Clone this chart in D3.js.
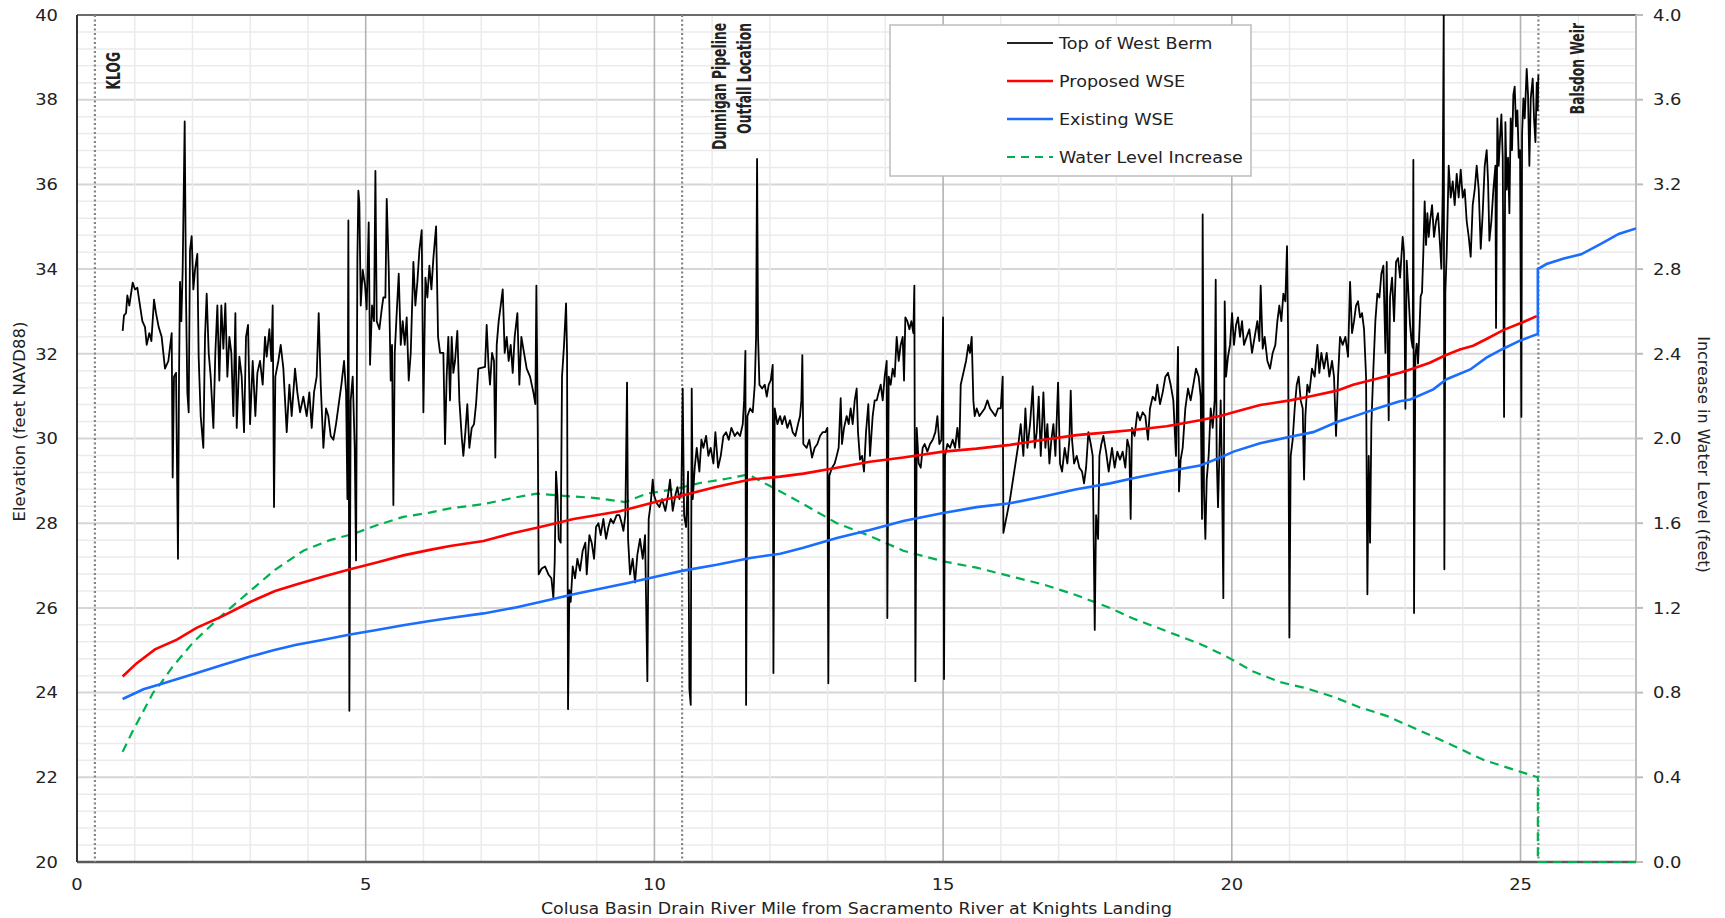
<!DOCTYPE html>
<html>
<head>
<meta charset="utf-8">
<script src="https://cdn.jsdelivr.net/npm/d3@7"></script>
<style>
    body { margin: 0; background: #fff; }
    text { fill: #222; }
</style>
</head>
<body>
<script>

// river mile vs elevation (ft NAVD88), top of west berm
const berm = [
[0.791,32.54],[0.814,32.91],[0.849,32.96],[0.872,33.38],[0.906,33.14],[0.964,33.68],[1.005,33.52],[1.045,33.56],[1.091,33.14],[1.132,32.77],
[1.178,32.63],[1.207,32.21],[1.253,32.49],[1.288,32.30],[1.334,33.28],[1.368,32.96],[1.415,32.63],[1.466,32.40],[1.524,31.65],[1.582,31.83],
[1.640,32.49],[1.657,29.08],[1.680,31.46],[1.715,31.55],[1.749,27.16],[1.767,31.46],[1.784,33.70],[1.807,32.77],[1.830,33.98],[1.865,37.49],
[1.888,33.33],[1.911,31.09],[1.934,30.62],[1.957,34.45],[1.986,34.78],[2.015,33.52],[2.044,33.98],[2.084,34.36],[2.107,31.93],[2.142,30.53],
[2.188,29.78],[2.217,32.40],[2.246,33.42],[2.281,32.02],[2.315,31.46],[2.362,30.25],[2.396,32.02],[2.431,33.14],[2.465,31.37],[2.500,33.14],
[2.535,32.12],[2.569,33.19],[2.604,31.46],[2.639,32.40],[2.673,32.02],[2.708,30.53],[2.743,32.96],[2.766,30.25],[2.812,31.93],[2.852,31.46],
[2.893,30.15],[2.927,32.40],[2.962,32.68],[2.997,30.34],[3.043,31.83],[3.089,30.53],[3.124,31.55],[3.170,31.83],[3.216,31.27],[3.256,32.40],
[3.285,31.93],[3.332,32.58],[3.366,31.83],[3.389,33.14],[3.412,28.38],[3.435,31.46],[3.487,31.83],[3.528,32.21],[3.574,31.65],[3.632,30.15],
[3.678,31.27],[3.718,30.53],[3.776,31.65],[3.816,31.09],[3.863,30.62],[3.920,30.99],[3.978,30.53],[4.024,31.09],[4.065,30.25],[4.105,31.09],
[4.151,31.46],[4.186,32.96],[4.221,31.27],[4.267,29.78],[4.313,30.71],[4.353,30.53],[4.394,30.06],[4.440,29.97],[4.486,30.34],[4.533,30.81],
[4.579,31.27],[4.625,31.83],[4.660,31.09],[4.683,28.57],[4.700,35.15],[4.717,23.57],[4.740,30.90],[4.775,31.46],[4.810,29.78],[4.833,27.12],
[4.856,34.26],[4.873,35.85],[4.890,35.57],[4.914,33.14],[4.948,33.98],[4.989,33.61],[5.017,33.05],[5.052,35.10],[5.075,31.74],[5.110,33.14],
[5.144,32.77],[5.168,36.32],[5.191,32.77],[5.237,32.58],[5.277,33.05],[5.306,33.33],[5.341,33.33],[5.364,35.66],[5.399,33.98],[5.433,31.37],
[5.456,32.21],[5.479,28.43],[5.503,32.02],[5.537,32.96],[5.572,33.89],[5.607,32.21],[5.641,32.77],[5.676,32.21],[5.710,32.86],[5.745,31.37],
[5.780,32.02],[5.826,34.17],[5.860,33.14],[5.895,33.70],[5.930,34.45],[5.970,34.92],[5.999,30.62],[6.034,33.80],[6.068,33.33],[6.103,34.08],
[6.138,33.52],[6.172,34.26],[6.219,35.01],[6.253,32.40],[6.288,32.02],[6.345,32.02],[6.374,29.87],[6.402,31.46],[6.431,32.40],[6.460,30.90],
[6.489,32.40],[6.518,31.55],[6.547,31.83],[6.587,32.54],[6.622,30.90],[6.662,30.06],[6.691,29.59],[6.726,30.15],[6.760,30.81],[6.795,29.78],
[6.836,30.25],[6.876,30.34],[6.911,30.81],[6.951,31.65],[7.067,31.69],[7.095,32.68],[7.130,31.65],[7.153,31.27],[7.188,32.02],[7.222,31.83],
[7.245,29.55],[7.269,32.21],[7.303,32.77],[7.338,33.14],[7.373,33.52],[7.407,32.02],[7.442,32.40],[7.476,31.83],[7.511,32.21],[7.546,31.55],
[7.580,32.40],[7.627,32.96],[7.661,31.27],[7.696,32.40],[7.742,32.02],[7.788,31.65],[7.846,31.46],[7.904,31.09],[7.938,30.81],[7.956,33.61],
[7.979,30.34],[7.996,26.79],[8.048,26.93],[8.106,26.98],[8.164,26.79],[8.216,26.70],[8.250,26.23],[8.273,27.07],[8.296,29.22],[8.320,28.66],
[8.343,27.63],[8.377,27.54],[8.400,31.46],[8.435,32.21],[8.470,33.19],[8.487,32.02],[8.504,23.61],[8.527,26.42],[8.550,26.14],[8.585,26.98],
[8.626,26.70],[8.666,27.16],[8.712,26.88],[8.758,27.35],[8.804,27.54],[8.828,26.79],[8.874,27.72],[8.914,27.54],[8.955,27.16],[8.989,27.91],
[9.030,28.00],[9.070,27.72],[9.116,28.10],[9.163,27.63],[9.203,27.91],[9.243,28.10],[9.290,28.00],[9.347,28.19],[9.394,28.19],[9.434,28.00],
[9.463,27.82],[9.497,28.19],[9.526,31.32],[9.544,27.63],[9.578,26.79],[9.624,27.16],[9.665,26.60],[9.705,27.26],[9.751,27.63],[9.798,27.16],
[9.838,27.72],[9.878,24.27],[9.901,28.10],[9.936,28.47],[9.971,29.03],[9.994,28.66],[10.040,28.47],[10.086,28.38],[10.132,28.57],[10.190,28.29],
[10.236,28.66],[10.271,29.03],[10.317,28.29],[10.363,28.66],[10.398,28.85],[10.433,28.57],[10.467,28.75],[10.490,31.18],[10.514,28.19],[10.548,27.91],
[10.583,29.22],[10.606,24.08],[10.629,23.71],[10.646,31.18],[10.664,28.57],[10.698,29.31],[10.733,29.78],[10.779,29.22],[10.814,29.97],[10.848,29.78],
[10.895,30.06],[10.935,29.59],[10.975,29.78],[11.022,29.41],[11.056,30.15],[11.103,29.31],[11.149,29.59],[11.195,30.06],[11.241,30.15],[11.287,29.97],
[11.333,30.25],[11.391,30.06],[11.437,30.15],[11.484,30.06],[11.530,30.34],[11.553,30.90],[11.576,32.07],[11.588,23.71],[11.611,30.53],[11.657,30.71],
[11.703,30.62],[11.738,31.27],[11.761,32.40],[11.778,36.60],[11.795,32.40],[11.819,31.27],[11.865,31.18],[11.911,31.27],[11.946,30.99],[11.980,31.27],
[12.015,31.37],[12.049,31.74],[12.061,24.46],[12.084,30.71],[12.130,30.34],[12.177,30.53],[12.210,30.34],[12.256,30.53],[12.302,30.25],[12.348,30.43],
[12.395,30.15],[12.441,30.06],[12.487,30.34],[12.522,30.53],[12.545,30.90],[12.562,31.97],[12.579,29.87],[12.637,29.78],[12.683,29.97],[12.730,29.55],
[12.776,29.78],[12.822,29.87],[12.868,30.06],[12.914,30.15],[12.960,30.15],[12.995,30.25],[13.012,24.22],[13.030,29.13],[13.076,29.31],[13.122,29.41],
[13.157,29.59],[13.191,29.78],[13.226,30.95],[13.249,29.87],[13.284,30.25],[13.330,30.53],[13.365,30.34],[13.399,30.71],[13.434,30.34],[13.469,30.90],
[13.503,31.18],[13.526,30.15],[13.561,29.50],[13.596,29.59],[13.630,29.22],[13.665,30.15],[13.705,30.81],[13.734,29.59],[13.780,30.53],[13.815,30.90],
[13.850,30.90],[13.884,31.09],[13.919,31.27],[13.954,30.90],[13.988,31.46],[14.023,31.83],[14.034,25.76],[14.058,31.46],[14.092,31.27],[14.127,31.65],
[14.161,31.46],[14.196,32.40],[14.231,31.83],[14.265,32.21],[14.300,32.40],[14.323,31.37],[14.346,32.86],[14.381,32.77],[14.416,32.58],[14.450,32.77],
[14.485,32.49],[14.502,33.61],[14.520,24.27],[14.543,30.25],[14.577,29.41],[14.612,29.31],[14.646,29.78],[14.681,29.87],[14.727,29.69],[14.774,29.87],
[14.820,29.97],[14.866,30.15],[14.901,30.53],[14.935,29.87],[14.970,29.97],[14.999,32.86],[15.016,24.32],[15.033,29.59],[15.074,29.87],[15.120,29.78],
[15.166,29.97],[15.207,29.78],[15.247,30.25],[15.282,29.78],[15.305,31.27],[15.351,31.55],[15.397,31.83],[15.438,32.21],[15.466,32.02],[15.495,32.40],
[15.524,30.90],[15.547,30.53],[15.582,30.71],[15.628,30.53],[15.674,30.62],[15.720,30.71],[15.767,30.90],[15.813,30.71],[15.859,30.62],[15.905,30.53],
[15.951,30.71],[15.998,30.71],[16.032,31.46],[16.044,27.77],[16.159,28.57],[16.304,29.87],[16.344,30.34],[16.390,29.59],[16.425,30.71],[16.460,29.78],
[16.506,30.34],[16.552,31.23],[16.587,29.78],[16.621,30.15],[16.656,30.99],[16.691,29.59],[16.737,31.09],[16.771,29.78],[16.806,30.34],[16.841,29.41],
[16.875,29.97],[16.910,30.34],[16.945,29.59],[16.991,31.32],[17.025,29.41],[17.060,29.22],[17.106,29.78],[17.152,29.41],[17.187,29.97],[17.210,31.13],
[17.233,29.97],[17.268,29.41],[17.314,29.59],[17.360,29.31],[17.406,29.22],[17.441,28.94],[17.476,29.31],[17.516,30.15],[17.557,29.87],[17.591,29.59],
[17.626,25.48],[17.649,28.19],[17.684,27.63],[17.707,29.59],[17.741,29.87],[17.776,30.06],[17.822,29.69],[17.868,29.22],[17.925,29.78],[17.971,29.31],
[18.017,29.69],[18.063,29.50],[18.110,29.69],[18.156,29.31],[18.190,29.97],[18.225,29.78],[18.248,28.10],[18.271,30.25],[18.317,30.06],[18.364,30.62],
[18.410,30.43],[18.456,30.62],[18.502,30.53],[18.548,29.97],[18.583,30.71],[18.629,30.99],[18.675,30.90],[18.710,31.27],[18.756,30.81],[18.803,31.09],
[18.849,31.46],[18.895,31.55],[18.941,31.27],[18.987,30.90],[19.033,29.59],[19.068,32.16],[19.085,28.75],[19.114,29.50],[19.149,29.78],[19.195,30.71],
[19.241,31.18],[19.287,30.90],[19.334,31.27],[19.380,31.65],[19.426,31.46],[19.461,30.99],[19.484,28.10],[19.495,35.29],[19.518,28.75],[19.542,27.63],
[19.565,29.03],[19.599,29.59],[19.634,30.71],[19.669,30.25],[19.703,30.90],[19.721,33.75],[19.738,29.59],[19.761,28.38],[19.784,29.59],[19.807,30.90],
[19.830,29.13],[19.853,26.23],[19.877,33.24],[19.900,31.46],[19.934,31.93],[19.969,32.21],[20.004,32.96],[20.038,32.21],[20.073,32.68],[20.107,32.86],
[20.142,32.40],[20.177,32.77],[20.211,32.21],[20.258,32.40],[20.304,32.58],[20.350,32.02],[20.396,32.40],[20.442,32.77],[20.477,32.30],[20.500,33.61],
[20.535,32.12],[20.569,32.40],[20.616,31.83],[20.662,31.65],[20.708,32.02],[20.754,32.21],[20.789,32.77],[20.823,33.14],[20.858,32.77],[20.893,33.42],
[20.927,33.24],[20.956,34.54],[20.974,32.58],[20.997,25.30],[21.020,29.59],[21.054,29.97],[21.089,30.71],[21.124,31.27],[21.158,31.46],[21.193,30.90],
[21.228,30.71],[21.251,29.03],[21.274,30.53],[21.308,31.27],[21.343,31.09],[21.389,31.65],[21.435,31.46],[21.482,32.21],[21.516,31.55],[21.551,32.02],
[21.597,31.65],[21.643,32.02],[21.689,31.46],[21.736,31.83],[21.770,31.46],[21.805,30.06],[21.840,31.46],[21.874,32.40],[21.920,32.21],[21.967,32.40],
[22.013,31.93],[22.048,33.70],[22.082,32.49],[22.117,32.77],[22.151,33.14],[22.186,33.24],[22.221,32.86],[22.255,32.96],[22.290,32.58],[22.325,31.46],
[22.348,26.32],[22.371,29.59],[22.394,27.54],[22.417,30.34],[22.452,31.65],[22.486,32.77],[22.521,33.42],[22.556,33.33],[22.590,33.89],[22.625,34.08],
[22.660,32.02],[22.683,34.17],[22.717,30.43],[22.740,33.33],[22.775,33.80],[22.810,32.77],[22.844,34.17],[22.879,34.26],[22.914,33.80],[22.959,34.76],
[22.982,34.39],[23.006,30.70],[23.029,34.20],[23.058,33.45],[23.086,32.70],[23.110,32.33],[23.133,32.14],[23.144,36.58],[23.156,25.88],[23.179,31.96],
[23.202,32.24],[23.225,31.77],[23.248,32.52],[23.271,33.36],[23.294,33.45],[23.317,34.39],[23.340,35.60],[23.364,34.57],[23.387,35.32],[23.410,34.76],
[23.433,35.13],[23.468,35.51],[23.502,34.76],[23.537,35.13],[23.571,35.32],[23.606,34.57],[23.629,34.01],[23.652,35.79],[23.670,40.00],[23.681,26.91],
[23.698,33.45],[23.722,34.39],[23.756,36.44],[23.791,35.69],[23.826,36.07],[23.860,35.51],[23.895,36.25],[23.929,35.69],[23.964,36.35],[23.999,35.69],
[24.033,35.88],[24.068,35.13],[24.103,34.76],[24.137,34.29],[24.172,35.51],[24.207,35.88],[24.241,36.44],[24.276,35.88],[24.311,34.48],[24.345,35.32],
[24.380,36.44],[24.414,36.81],[24.438,36.07],[24.461,34.67],[24.495,35.13],[24.530,35.88],[24.565,36.44],[24.576,32.61],[24.599,37.56],[24.622,36.44],
[24.645,37.09],[24.669,37.65],[24.692,36.63],[24.715,30.51],[24.738,37.47],[24.761,35.88],[24.784,36.63],[24.807,35.32],[24.830,37.56],[24.853,36.81],
[24.876,38.12],[24.899,38.31],[24.922,37.37],[24.946,37.75],[24.969,36.63],[24.992,36.81],[25.015,30.51],[25.027,37.19],[25.050,38.03],[25.073,37.56],
[25.107,38.73],[25.130,38.12],[25.153,36.44],[25.177,38.03],[25.211,38.50],[25.234,37.56],[25.258,37.00],[25.281,38.40],[25.298,37.75],[25.309,38.59]
];

// proposed water surface elevation
const proposedWSE = [
[0.79,24.38],[1.03,24.69],[1.35,25.02],[1.73,25.25],[2.07,25.53],[2.53,25.81],[3.0,26.14],[3.43,26.40],[3.81,26.56],[4.27,26.74],
[4.73,26.91],[5.19,27.07],[5.65,27.24],[6.11,27.37],[6.46,27.46],[7.04,27.58],[7.56,27.77],[8.02,27.91],[8.6,28.1],[9.4,28.28],
[9.98,28.49],[10.5,28.66],[11.08,28.86],[11.66,29.03],[12.18,29.1],[12.58,29.17],[13.16,29.31],[13.73,29.45],[14.31,29.55],[15.0,29.69],
[15.58,29.76],[16.16,29.85],[16.74,29.97],[17.31,30.08],[17.89,30.15],[18.29,30.2],[18.87,30.29],[19.45,30.43],[19.8,30.53],[20.03,30.62],
[20.49,30.79],[21.01,30.9],[21.41,31.01],[21.82,31.13],[22.1,31.27],[22.51,31.41],[22.91,31.55],[23.09,31.63],[23.43,31.79],[23.69,31.96],
[23.95,32.1],[24.18,32.19],[24.41,32.35],[24.7,32.56],[25.05,32.75],[25.28,32.89]
];

// existing water surface elevation
const existingWSE = [
[0.79,23.85],[1.15,24.08],[1.5,24.22],[2.02,24.44],[2.53,24.66],[3.0,24.85],[3.4,25.0],[3.8,25.13],[4.27,25.25],[4.73,25.37],
[5.19,25.48],[5.65,25.59],[6.11,25.69],[6.46,25.76],[7.04,25.87],[7.56,26.0],[8.02,26.14],[8.6,26.32],[9.52,26.58],[10.04,26.74],
[10.5,26.88],[11.08,27.02],[11.66,27.18],[12.18,27.28],[12.58,27.42],[13.16,27.65],[13.73,27.84],[14.31,28.05],[15.0,28.24],[15.58,28.38],
[16.16,28.47],[16.74,28.63],[17.31,28.8],[17.89,28.94],[18.29,29.06],[18.87,29.22],[19.45,29.36],[19.8,29.55],[20.03,29.69],[20.49,29.89],
[21.01,30.04],[21.41,30.15],[21.82,30.39],[22.22,30.57],[22.51,30.71],[22.91,30.88],[23.09,30.92],[23.49,31.16],[23.72,31.4],[24.13,31.63],
[24.41,31.91],[24.7,32.12],[24.99,32.31],[25.3,32.47],[25.3,34.0],[25.45,34.12],[25.75,34.25],[26.05,34.35],[26.4,34.6],[26.7,34.83],[27.0,34.96]
];

// water level increase (ft), right axis
const waterIncrease = [
[0.79,0.52],[0.95,0.61],[1.32,0.80],[1.44,0.84],[1.65,0.92],[2.02,1.04],[2.53,1.17],[3.0,1.28],[3.43,1.38],[3.92,1.47],
[4.38,1.52],[4.79,1.55],[5.19,1.59],[5.65,1.63],[6.11,1.65],[6.46,1.67],[7.04,1.69],[7.56,1.72],[7.96,1.74],[8.37,1.73],
[8.94,1.72],[9.49,1.70],[9.87,1.74],[10.33,1.76],[10.79,1.79],[11.25,1.81],[11.63,1.83],[11.83,1.80],[12.18,1.75],[12.58,1.69],
[13.16,1.60],[13.73,1.54],[14.31,1.47],[15.0,1.42],[15.58,1.39],[16.16,1.35],[16.74,1.31],[17.31,1.26],[17.89,1.20],[18.29,1.15],
[18.87,1.09],[19.45,1.03],[19.91,0.97],[20.37,0.90],[20.83,0.85],[21.3,0.82],[21.76,0.78],[22.22,0.73],[22.68,0.69],[23.51,0.59],
[24.38,0.48],[25.3,0.40],[25.3,0],[27.0,0]
];

// reference locations along the drain
const markers = [
    {mile: 0.31, lines: ["KLOG"]},
    {mile: 10.48, lines: ["Dunnigan Pipeline", "Outfall Location"]},
    {mile: 25.31, lines: ["Balsdon Weir"]}
];

const xTicks = [0, 5, 10, 15, 20, 25];
const yLeftTicks = d3.range(20, 40.01, 2);
const yRightTicks = d3.range(0, 4.01, 0.4);

const legendItems = [
    {label: "Top of West Berm", color: "#222", dash: null, w: 1.8},
    {label: "Proposed WSE", color: "#ff0000", dash: null, w: 2.6},
    {label: "Existing WSE", color: "#1a6dff", dash: null, w: 2.6},
    {label: "Water Level Increase", color: "#00b050", dash: "8,6", w: 2.2}
];


const width = 1725, height = 918;
const plot = {left: 77, right: 1636, top: 15, bottom: 862};
// text in the original is a bit stretched sideways
const STRETCH = 1.12;

const svg = d3.select('body').append("svg")
    .attr("width", width)
    .attr("height", height);

const x = d3.scaleLinear().domain([0, 27]).range([plot.left, plot.right]);
const yL = d3.scaleLinear().domain([20, 40]).range([plot.bottom, plot.top]);
const yR = d3.scaleLinear().domain([0, 4]).range([plot.bottom, plot.top]);

// grid
const grid = svg.append("g");
grid.selectAll("line.hmin")
    .data(d3.range(20.4, 40, 0.4))
    .enter().append("line")
    .attr("x1", plot.left).attr("x2", plot.right)
    .attr("y1", function(d){ return yL(d); })
    .attr("y2", function(d){ return yL(d); })
    .attr("stroke", function(d){ return Math.abs(d/2 - Math.round(d/2)) < 0.01 ? "#d6d6d6" : "#ebebeb"; })
    .attr("stroke-width", function(d){ return Math.abs(d/2 - Math.round(d/2)) < 0.01 ? 2 : 1.5; });

grid.selectAll("line.vmin")
    .data(d3.range(1, 27))
    .enter().append("line")
    .attr("y1", plot.top).attr("y2", plot.bottom)
    .attr("x1", function(d){ return x(d); })
    .attr("x2", function(d){ return x(d); })
    .attr("stroke", function(d){ return d % 5 == 0 ? "#b3b3b3" : "#ebebeb"; })
    .attr("stroke-width", function(d){ return d % 5 == 0 ? 1.6 : 1.5; });

// frame
svg.append("line").attr("x1", plot.left).attr("x2", plot.right).attr("y1", plot.top).attr("y2", plot.top)
    .attr("stroke", "#6b6b6b").attr("stroke-width", 2);
svg.append("line").attr("x1", plot.right).attr("x2", plot.right).attr("y1", plot.top).attr("y2", plot.bottom)
    .attr("stroke", "#bdbdbd").attr("stroke-width", 2);
svg.append("line").attr("x1", plot.left).attr("x2", plot.right).attr("y1", plot.bottom).attr("y2", plot.bottom)
    .attr("stroke", "#5a5a5a").attr("stroke-width", 2.5);

// marker lines
svg.append("g").selectAll("line")
    .data(markers)
    .enter().append("line")
    .attr("x1", function(d){ return x(d.mile); })
    .attr("x2", function(d){ return x(d.mile); })
    .attr("y1", plot.top).attr("y2", plot.bottom)
    .attr("stroke", "#858585")
    .attr("stroke-width", 2.2)
    .attr("stroke-dasharray", "2,2.5");

svg.append("defs").append("clipPath").attr("id", "clip")
    .append("rect")
    .attr("x", plot.left).attr("y", plot.top)
    .attr("width", plot.right - plot.left).attr("height", plot.bottom - plot.top + 3);

const lineL = d3.line()
    .x(function(d){ return x(d[0]); })
    .y(function(d){ return yL(d[1]); });
const lineR = d3.line()
    .x(function(d){ return x(d[0]); })
    .y(function(d){ return yR(d[1]); });

const series = svg.append("g").attr("clip-path", "url(#clip)");

series.append("path")
    .datum(waterIncrease)
    .attr("d", lineR)
    .attr("fill", "none")
    .attr("stroke", "#00b050")
    .attr("stroke-width", 2.2)
    .attr("stroke-dasharray", "9,6");

series.append("path")
    .datum(berm)
    .attr("d", lineL)
    .attr("fill", "none")
    .attr("stroke", "#000")
    .attr("stroke-width", 1.8)
    .attr("stroke-linejoin", "round");

series.append("path")
    .datum(existingWSE)
    .attr("d", lineL)
    .attr("fill", "none")
    .attr("stroke", "#1a6dff")
    .attr("stroke-width", 2.6);

series.append("path")
    .datum(proposedWSE)
    .attr("d", lineL)
    .attr("fill", "none")
    .attr("stroke", "#ff0000")
    .attr("stroke-width", 2.6);

// left axis line
svg.append("line").attr("x1", plot.left).attr("x2", plot.left).attr("y1", plot.top).attr("y2", plot.bottom)
    .attr("stroke", "#333").attr("stroke-width", 2);

// tick labels
const tickFont = "'DejaVu Sans', Verdana, sans-serif";

svg.append("g").selectAll("text")
    .data(yLeftTicks)
    .enter().append("text")
    .attr("transform", function(d){ return "translate(58," + yL(d) + ") scale(" + STRETCH + ",1)"; })
    .attr("dy", "0.36em")
    .attr("text-anchor", "end")
    .style("font-family", tickFont)
    .style("font-size", "16px")
    .text(function(d){ return d; });

svg.append("g").selectAll("text")
    .data(xTicks)
    .enter().append("text")
    .attr("transform", function(d){ return "translate(" + x(d) + ",890) scale(" + STRETCH + ",1)"; })
    .attr("text-anchor", "middle")
    .style("font-family", tickFont)
    .style("font-size", "16px")
    .text(function(d){ return d; });

const rAxis = svg.append("g");
rAxis.selectAll("line")
    .data(yRightTicks)
    .enter().append("line")
    .attr("x1", plot.right).attr("x2", plot.right + 7)
    .attr("y1", function(d){ return yR(d); })
    .attr("y2", function(d){ return yR(d); })
    .attr("stroke", "#bdbdbd").attr("stroke-width", 2);
rAxis.selectAll("text")
    .data(yRightTicks)
    .enter().append("text")
    .attr("transform", function(d){ return "translate(1653," + yR(d) + ") scale(" + STRETCH + ",1)"; })
    .attr("dy", "0.36em")
    .style("font-family", tickFont)
    .style("font-size", "16px")
    .text(function(d){ return d3.format(".1f")(d); });

// axis titles
svg.append("text")
    .attr("transform", "translate(25," + ((plot.top + plot.bottom) / 2 - 17) + ") rotate(-90) scale(1.1,1)")
    .attr("text-anchor", "middle")
    .style("font-family", tickFont)
    .style("font-size", "15px")
    .text("Elevation (feet NAVD88)");

svg.append("text")
    .attr("transform", "translate(1698," + ((plot.top + plot.bottom) / 2 + 16) + ") rotate(90) scale(1.07,1)")
    .attr("text-anchor", "middle")
    .style("font-family", tickFont)
    .style("font-size", "15px")
    .text("Increase in Water Level (feet)");

svg.append("text")
    .attr("transform", "translate(" + ((plot.left + plot.right) / 2) + ",914) scale(1.16,1)")
    .attr("text-anchor", "middle")
    .style("font-family", tickFont)
    .style("font-size", "15px")
    .text("Colusa Basin Drain River Mile from Sacramento River at Knights Landing");

// marker labels, rotated, right end at the top
const markFont = "'Liberation Sans Narrow', 'DejaVu Sans Condensed', 'Roboto Condensed', sans-serif";
const markOffset = {"KLOG": [25, 52], "Balsdon Weir": [46, 23]};
markers.forEach(function(m) {
    m.lines.forEach(function(s, i) {
        let off = markOffset[s] || [44 + i * 25, 23];
        svg.append("text")
            .attr("transform", "translate(" + (x(m.mile) + off[0]) + "," + off[1] + ") rotate(-90) scale(0.72,1)")
            .attr("text-anchor", "end")
            .style("font-family", markFont)
            .style("font-weight", "bold")
            .style("font-size", "19px")
            .text(s);
    });
});

// legend
const legend = svg.append("g");
legend.append("rect")
    .attr("x", 890).attr("y", 25)
    .attr("width", 361).attr("height", 151)
    .attr("fill", "#fff")
    .attr("stroke", "#bdbdbd")
    .attr("stroke-width", 1.5);

const item = legend.selectAll("g")
    .data(legendItems)
    .enter().append("g")
    .attr("transform", function(d, i){ return "translate(0," + (43 + i * 38) + ")"; });
item.append("line")
    .attr("x1", 1007).attr("x2", 1053)
    .attr("stroke", function(d){ return d.color; })
    .attr("stroke-width", function(d){ return d.w; })
    .attr("stroke-dasharray", function(d){ return d.dash; });
item.append("text")
    .attr("transform", "translate(1059,0) scale(1.1,1)")
    .attr("dy", "0.36em")
    .style("font-family", tickFont)
    .style("font-size", "16px")
    .text(function(d){ return d.label; });

</script>
</body>
</html>
